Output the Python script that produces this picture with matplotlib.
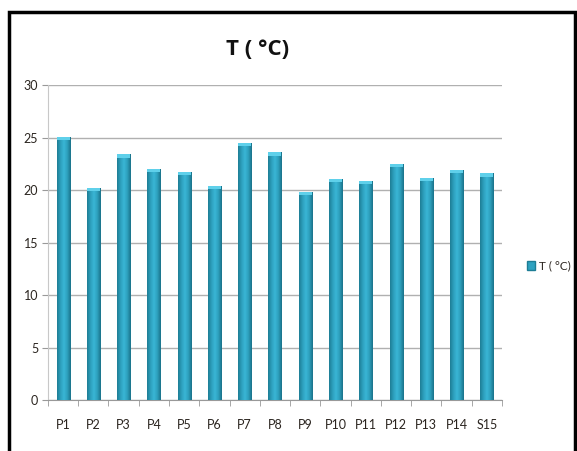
import matplotlib
matplotlib.use("Agg")
import numpy as np
import matplotlib.pyplot as plt
from matplotlib.patches import Rectangle, Patch
from matplotlib.colors import LinearSegmentedColormap

plt.rcParams["font.family"] = ["Lato", "DejaVu Sans"]

categories = ["P1", "P2", "P3", "P4", "P5", "P6", "P7", "P8", "P9",
              "P10", "P11", "P12", "P13", "P14", "S15"]
temps = [25.1, 20.2, 23.4, 22.0, 21.7, 20.4, 24.5, 23.6, 19.8,
         21.1, 20.9, 22.5, 21.2, 21.9, 21.6]
series_name = "T ( °C)"

BAR = "#2EA2C0"
TXT = "#2b2520"
cyl = LinearSegmentedColormap.from_list(
    "cyl", ["#1d7d95", "#2d9fbc", "#3ab6d6", "#2d9fbc", "#1a7289"])

fig = plt.figure(figsize=(5.77, 4.51), dpi=100)
ax = fig.add_axes([0.083, 0.113, 0.787, 0.698])

x = np.arange(len(categories))
w = 0.43
bars = ax.bar(x, temps, w, color=BAR, zorder=3, linewidth=0)
grad = np.linspace(0, 1, 64).reshape(1, -1)
for b in bars:
    x0, y0 = b.get_x(), b.get_y()
    bw, bh = b.get_width(), b.get_height()
    im = ax.imshow(grad, cmap=cyl, aspect="auto", zorder=4,
                   extent=[x0, x0 + bw, y0, y0 + bh], interpolation="bilinear")
    im.set_clip_path(b)
    # lighter cap at the top of each bar
    ax.add_patch(Rectangle((x0, y0 + bh - 0.3), bw, 0.3, color="#5fd0ea",
                           zorder=5, lw=0))

ax.set_xlim(-0.5, len(categories) - 0.5)
ax.set_ylim(0, 30)
ax.set_yticks(range(0, 31, 5))
ax.set_xticks(x)
ax.set_xticklabels(categories, fontsize=9, color=TXT)
ax.set_xticks(np.arange(-0.5, len(categories), 1), minor=True)
ax.tick_params(axis="x", which="major", length=0, pad=14)
ax.tick_params(axis="x", which="minor", length=4, color="#999999")
ax.tick_params(axis="y", length=4, color="#999999", labelsize=9,
               labelcolor=TXT, pad=3)
ax.yaxis.grid(True, color="#b0b0b0", lw=1.0, zorder=0)
ax.set_axisbelow(True)
for s in ("top", "right"):
    ax.spines[s].set_visible(False)
ax.spines["left"].set_color("#c8c8c8")
ax.spines["bottom"].set_color("#999999")

fig.text(0.447, 0.89, series_name, ha="center", va="center",
         family=["Open Sans", "DejaVu Sans"], fontsize=16, fontweight="bold",
         color="#111111")

fig.legend(handles=[Patch(fc=BAR, ec="#1d7d95", label=series_name)],
           loc="center left", bbox_to_anchor=(0.895, 0.41), frameon=False,
           fontsize=8.5, handlelength=0.7, handleheight=0.7, handletextpad=0.3,
           labelcolor=TXT)

fig.patches.append(Rectangle((0.0156, -0.02), 0.981, 0.993,
                             transform=fig.transFigure, fill=False,
                             ec="black", lw=2.5))

fig.savefig("out.png", dpi=100, facecolor="white")
